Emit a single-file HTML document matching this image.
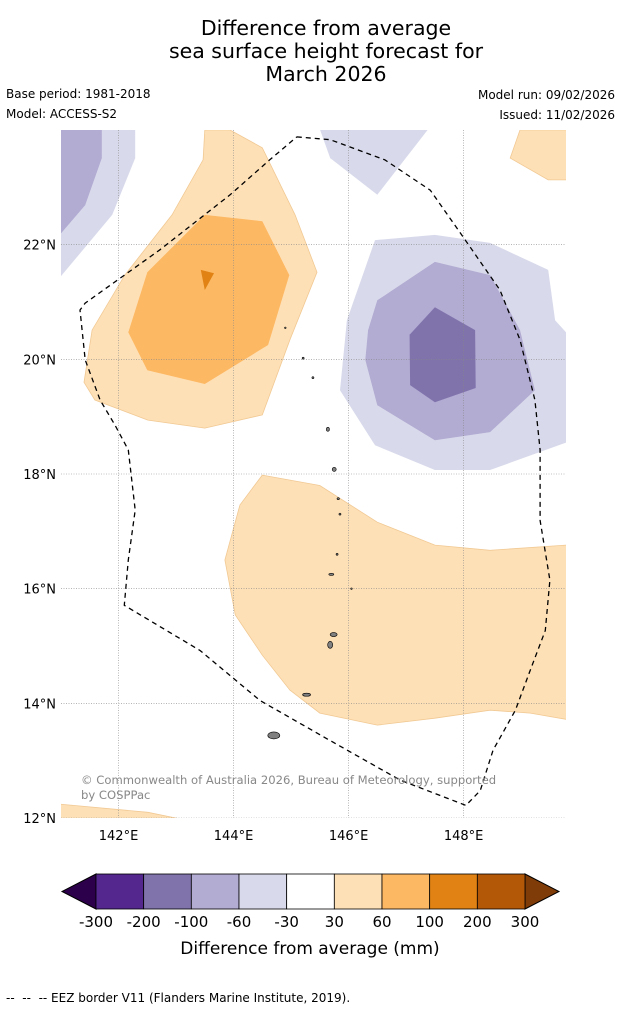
<!DOCTYPE html>
<html><head><meta charset="utf-8"><style>
body{margin:0;background:#fff;font-family:"Liberation Sans","DejaVu Sans",sans-serif}
svg{display:block}
</style></head><body>
<svg id="chart" width="621" height="1011" viewBox="0 0 621 1011" xmlns="http://www.w3.org/2000/svg">
<text x="326" y="35" font-size="20.5" text-anchor="middle" font-family="DejaVu Sans, sans-serif">Difference from average</text>
<text x="326" y="58" font-size="20.5" text-anchor="middle" font-family="DejaVu Sans, sans-serif">sea surface height forecast for</text>
<text x="326" y="81" font-size="20.5" text-anchor="middle" font-family="DejaVu Sans, sans-serif">March 2026</text>
<text x="6" y="98" font-size="12" font-family="DejaVu Sans, sans-serif">Base period: 1981-2018</text>
<text x="6" y="118" font-size="12" font-family="DejaVu Sans, sans-serif">Model: ACCESS-S2</text>
<text x="615" y="99" font-size="12" text-anchor="end" font-family="DejaVu Sans, sans-serif">Model run: 09/02/2026</text>
<text x="615" y="119" font-size="12" text-anchor="end" font-family="DejaVu Sans, sans-serif">Issued: 11/02/2026</text>
<defs><clipPath id="mapclip"><rect x="61" y="130" width="505" height="688"/></clipPath></defs>
<g id="map" clip-path="url(#mapclip)"></g>
<g id="overlay"></g>
<g id="cbar"></g>
<text x="310" y="954" font-size="17" text-anchor="middle" font-family="DejaVu Sans, sans-serif">Difference from average (mm)</text>
<text x="6" y="1002" font-size="12" font-family="DejaVu Sans, sans-serif">--&#160;&#160;--&#160;&#160;-- EEZ border V11 (Flanders Marine Institute, 2019).</text>
</svg>
<script>
const NS="http://www.w3.org/2000/svg";
const lonTicks=[142,144,146,148];
const latTicks=[12,14,16,18,20,22];
const cbLevels=[-300,-200,-100,-60,-30,30,60,100,200,300];
const cbColors=["#54278f","#8073ac","#b2abd2","#d8daeb","#ffffff","#fee0b6","#fdb863","#e08214","#b35806"];
const lightOrange1=[[143.5,24],[143.94,24],[144.5,23.69],[145.07,22.52],[145.45,21.52],[144.98,20.34],[144.5,19.03],[143.5,18.8],[142.51,18.94],[141.59,19.29],[141.4,19.6],[141.54,20.51],[142.11,21.47],[142.93,22.52],[143.47,23.48]];
const midOrange1=[[143.5,22.52],[144.5,22.41],[144.97,21.47],[144.6,20.25],[143.5,19.57],[142.5,19.81],[142.17,20.47],[142.5,21.52]];
const darkOrange1=[[143.43,21.56],[143.66,21.5],[143.5,21.21]];
const lightOrange2=[[144.5,17.98],[145.5,17.8],[146.5,17.16],[147.5,16.76],[148.46,16.67],[149.78,16.76],[149.9,16.76],[149.9,13.7],[149.16,13.83],[148.46,13.88],[147.5,13.74],[146.5,13.62],[145.5,13.83],[144.98,14.23],[144.5,14.84],[144.03,15.54],[143.85,16.5],[144.11,17.46]];
const lightOrange3=[[148.98,24],[149.9,24],[149.9,23.13],[149.47,23.13],[148.81,23.51]];
const lightOrange4=[[140.9,12.25],[142.51,12.1],[143.24,11.95],[140.9,11.95]];
const lav1=[[140.9,24.1],[142.29,24.1],[142.29,23.51],[141.89,22.52],[140.9,21.33]];
const med1=[[140.9,24.1],[141.71,24.1],[141.71,23.51],[141.42,22.69],[140.9,22.08]];
const lav2=[[145.47,24.1],[147.45,24.1],[146.5,22.87],[145.68,23.51]];
const lav3=[[146.46,22.08],[147.5,22.17],[148.46,22.03],[149.47,21.56],[149.59,20.68],[149.9,20.34],[149.9,18.59],[148.46,18.07],[147.5,18.07],[146.46,18.5],[145.85,19.46],[145.97,20.68]];
const med3=[[146.5,21.03],[147.5,21.7],[148.46,21.47],[148.98,20.51],[149.24,19.46],[148.46,18.73],[147.5,18.59],[146.5,19.2],[146.29,19.99],[146.34,20.51]];
const dark3=[[147.5,20.91],[148.2,20.51],[148.21,19.5],[147.5,19.25],[147.07,19.55],[147.06,20.43]];
const eez=[[145.1,23.88],[145.68,23.83],[146.63,23.48],[147.42,22.95],[148.03,22.08],[148.63,21.21],[148.98,20.34],[149.24,19.29],[149.33,18.42],[149.33,17.19],[149.5,16.15],[149.42,15.27],[149.16,14.58],[148.9,13.88],[148.51,13.18],[148.29,12.48],[148.04,12.22],[146.9,12.66],[145.68,13.35],[144.46,14.05],[143.42,14.92],[142.1,15.71],[142.17,16.5],[142.29,17.37],[142.17,18.42],[141.94,18.85],[141.68,19.29],[141.42,19.99],[141.33,20.86],[141.42,20.98],[142.72,21.91],[143.94,22.87],[144.63,23.48],[145.1,23.88]];
const islands=[[144.7,13.44,6,3.5],[145.74,15.2,3.5,2],[145.68,15.02,2.5,3.5],[145.27,14.15,4,1.5],[145.7,16.25,2.5,1],[145.8,16.6,1,1],[145.85,17.3,1,1],[145.82,17.57,1.2,1],[145.75,18.08,2,2],[145.64,18.78,1.5,2],[145.38,19.68,1,1],[145.21,20.02,1,1],[144.9,20.55,0.8,0.8],[146.05,16.0,0.8,0.8]];
const X0=61,X1=566,Y0=130,Y1=818,LON0=141,LON1=149.78,LAT0=24,LAT1=12;
const xs=lon=>X0+(lon-LON0)*(X1-X0)/(LON1-LON0);
const ys=lat=>Y0+(LAT0-lat)*(Y1-Y0)/(LAT0-LAT1);
const map=document.getElementById('map');
function poly(pts,fill,name){
 const p=document.createElementNS(NS,'polygon');
 p.setAttribute('points',pts.map(d=>xs(d[0]).toFixed(1)+','+ys(d[1]).toFixed(1)).join(' '));
 p.setAttribute('fill',fill);
 p.setAttribute('stroke',fill==="#fee0b6"?"#f1c994":"none");
 p.setAttribute('stroke-width','0.8');
 
 
 map.appendChild(p);
}
poly(lav1,"#d8daeb","contour-lavender-nw");
poly(med1,"#b2abd2","contour-purple-nw");
poly(lav2,"#d8daeb","contour-lavender-north");
poly(lav3,"#d8daeb","contour-lavender-east");
poly(med3,"#b2abd2","contour-purple-east");
poly(dark3,"#8073ac","contour-dark-purple-east");
poly(lightOrange1,"#fee0b6","contour-light-orange-nw");
poly(midOrange1,"#fdb863","contour-orange-nw");
poly(darkOrange1,"#e08214","contour-dark-orange-nw");
poly(lightOrange2,"#fee0b6","contour-light-orange-south");
poly(lightOrange3,"#fee0b6","contour-light-orange-ne");
poly(lightOrange4,"#fee0b6","contour-light-orange-sw");
lonTicks.forEach(v=>{
 const l=document.createElementNS(NS,'line');
 l.setAttribute('x1',xs(v));l.setAttribute('x2',xs(v));l.setAttribute('y1',Y0);l.setAttribute('y2',Y1);
 l.setAttribute('stroke','#888');l.setAttribute('stroke-width','0.6');l.setAttribute('stroke-dasharray','1,1.5');
 
 
 map.appendChild(l);
});
latTicks.forEach(v=>{
 const l=document.createElementNS(NS,'line');
 l.setAttribute('x1',X0);l.setAttribute('x2',X1);l.setAttribute('y1',ys(v));l.setAttribute('y2',ys(v));
 l.setAttribute('stroke','#888');l.setAttribute('stroke-width','0.6');l.setAttribute('stroke-dasharray','1,1.5');
 
 
 map.appendChild(l);
});
islands.forEach(d=>{
 const e=document.createElementNS(NS,'ellipse');
 e.setAttribute('cx',xs(d[0]));e.setAttribute('cy',ys(d[1]));e.setAttribute('rx',d[2]);e.setAttribute('ry',d[3]);
 e.setAttribute('fill','#808080');e.setAttribute('stroke','#000');e.setAttribute('stroke-width','0.6');
 
 
 map.appendChild(e);
});
const ez=document.createElementNS(NS,'polyline');
ez.setAttribute('points',eez.map(d=>xs(d[0]).toFixed(1)+','+ys(d[1]).toFixed(1)).join(' '));
ez.setAttribute('fill','none');ez.setAttribute('stroke','#000');ez.setAttribute('stroke-width','1.3');ez.setAttribute('stroke-dasharray','5,4');


map.appendChild(ez);
const cp=document.createElementNS(NS,'text');
cp.setAttribute('x',81);cp.setAttribute('y',784);cp.setAttribute('font-size','11.6');cp.setAttribute('fill','#888');
cp.setAttribute('font-family','DejaVu Sans, sans-serif');
cp.textContent='© Commonwealth of Australia 2026, Bureau of Meteorology, supported';


map.appendChild(cp);
const cp2=cp.cloneNode();cp2.setAttribute('y',799);cp2.textContent='by COSPPac';


map.appendChild(cp2);
const ov=document.getElementById('overlay');
lonTicks.forEach(v=>{
 const t=document.createElementNS(NS,'text');
 t.setAttribute('x',xs(v));t.setAttribute('y',840);t.setAttribute('font-size','13');t.setAttribute('text-anchor','middle');
 t.setAttribute('font-family','DejaVu Sans, sans-serif');
 t.textContent=v+'°E';
 
 
 ov.appendChild(t);
});
latTicks.forEach(v=>{
 const t=document.createElementNS(NS,'text');
 t.setAttribute('x',56);t.setAttribute('y',ys(v)+5);t.setAttribute('font-size','13');t.setAttribute('text-anchor','end');
 t.setAttribute('font-family','DejaVu Sans, sans-serif');
 t.textContent=v+'°N';
 
 
 ov.appendChild(t);
});
const cb=document.getElementById('cbar');
const CB0=96,CB1=525,CBY=874,CBH=35,n=cbColors.length,w=(CB1-CB0)/n;
function add(el,attrs,name){for(const k in attrs)el.setAttribute(k,attrs[k]);cb.appendChild(el);return el;}
add(document.createElementNS(NS,'polygon'),{points:`${CB0},${CBY} ${CB0},${CBY+CBH} 62,${CBY+CBH/2}`,fill:'#2d004b',stroke:'#000','stroke-width':1},'colorbar-min-extend');
add(document.createElementNS(NS,'polygon'),{points:`${CB1},${CBY} ${CB1},${CBY+CBH} 559,${CBY+CBH/2}`,fill:'#7f3b08',stroke:'#000','stroke-width':1},'colorbar-max-extend');
cbColors.forEach((c,i)=>{
 const r=document.createElementNS(NS,'rect');
 r.setAttribute('x',CB0+i*w);r.setAttribute('y',CBY);r.setAttribute('width',w);r.setAttribute('height',CBH);
 r.setAttribute('fill',c);r.setAttribute('stroke','#000');r.setAttribute('stroke-width','0.8');
 
 
 cb.appendChild(r);
});
cbLevels.forEach((v,i)=>{
 const t=document.createElementNS(NS,'text');
 t.setAttribute('x',CB0+i*w);t.setAttribute('y',927);t.setAttribute('font-size','15');t.setAttribute('text-anchor','middle');
 t.setAttribute('font-family','DejaVu Sans, sans-serif');
 t.textContent=v;
 
 
 cb.appendChild(t);
});
</script>
</body></html>
